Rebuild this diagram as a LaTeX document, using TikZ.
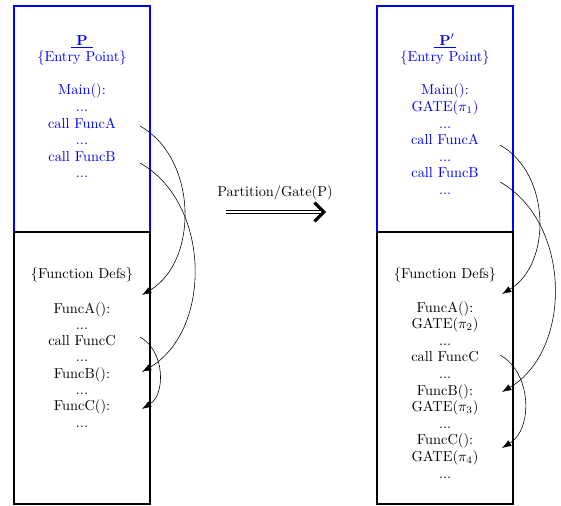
\documentclass[tikz,border=0pt]{standalone}
\usetikzlibrary{arrows.meta}
\begin{document}
\begin{tikzpicture}[x=0.6944pt, y=-0.6944pt,
  frame/.style={line width=1.3pt},
  ln/.style={anchor=base, inner sep=0pt},
  bl/.style={ln, text=blue},
  call/.style={-{Latex[length=6.5pt,width=4.6pt]}, bend left=60},
]
\useasboundingbox (0,0) rectangle (561,505);

% ---------- program P ----------
\draw[blue, frame] (14,6) rectangle (150,232);
\draw[frame] (14,232) rectangle (150,504);

\node[bl] (pTitle) at (82,45)    {\textbf{\underline{\ P\ }}};
\node[bl] (pEntry) at (82,61.6)  {\{Entry Point\}};
\node[bl] (pMain)  at (82,94.8)  {Main():};
\node[bl] (pD1)    at (82,111.4) {...};
\node[bl] (pCallA) at (82,128)   {call FuncA};
\node[bl] (pD2)    at (82,144.6) {...};
\node[bl] (pCallB) at (82,161.2) {call FuncB};
\node[bl] (pD3)    at (82,177.8) {...};

\node[ln] (pDefs)  at (82,278)   {\{Function Defs\}};
\node[ln] (pFA)    at (82,313)   {FuncA():};
\node[ln] (pD4)    at (82,329.3) {...};
\node[ln] (pCallC) at (82,345.6) {call FuncC};
\node[ln] (pD5)    at (82,361.9) {...};
\node[ln] (pFB)    at (82,378.2) {FuncB():};
\node[ln] (pD6)    at (82,394.5) {...};
\node[ln] (pFC)    at (82,410.8) {FuncC():};
\node[ln] (pD7)    at (82,427.1) {...};

% call edges in P
\coordinate (pA0) at (140,126);  \coordinate (pA1) at (142,295);
\coordinate (pB0) at (140,163);  \coordinate (pB1) at (142,372);
\coordinate (pC0) at (140,337);  \coordinate (pC1) at (142,409);
\draw[call] (pA0) to (pA1);
\draw[call] (pB0) to (pB1);
\draw[call] (pC0) to (pC1);

% ---------- transformation ----------
\node[anchor=base, inner sep=0pt] (xfLabel) at (275,196) {Partition/Gate(P)};
\coordinate (xf0) at (226,212);
\coordinate (xf1) at (326,212);
\draw[double, double distance=2pt,
      -{Straight Barb[length=6.5pt,width=13pt,line width=2.1pt 0 0]}] (xf0) -- (xf1);

% ---------- program P' ----------
\draw[blue, frame] (377,6) rectangle (513,232);
\draw[frame] (377,232) rectangle (513,504);

\node[bl] (qTitle) at (445,45)    {\textbf{\underline{\ $\mathbf{P}'$\kern1pt}}};
\node[bl] (qEntry) at (445,61.6)  {\{Entry Point\}};
\node[bl] (qMain)  at (445,94.8)  {Main():};
\node[bl] (qG1)    at (445,111.4) {GATE($\pi_1$)};
\node[bl] (qD1)    at (445,128)   {...};
\node[bl] (qCallA) at (445,144.6) {call FuncA};
\node[bl] (qD2)    at (445,161.2) {...};
\node[bl] (qCallB) at (445,177.8) {call FuncB};
\node[bl] (qD3)    at (445,194.4) {...};

\node[ln] (qDefs)  at (445,278)   {\{Function Defs\}};
\node[ln] (qFA)    at (445,312)   {FuncA():};
\node[ln] (qG2)    at (445,328.6) {GATE($\pi_2$)};
\node[ln] (qD4)    at (445,345.2) {...};
\node[ln] (qCallC) at (445,361.8) {call FuncC};
\node[ln] (qD5)    at (445,378.4) {...};
\node[ln] (qFB)    at (445,395)   {FuncB():};
\node[ln] (qG3)    at (445,411.6) {GATE($\pi_3$)};
\node[ln] (qD6)    at (445,428.2) {...};
\node[ln] (qFC)    at (445,444.8) {FuncC():};
\node[ln] (qG4)    at (445,461.4) {GATE($\pi_4$)};
\node[ln] (qD7)    at (445,478)   {...};

% call edges in P'
\coordinate (qA0) at (500,145);  \coordinate (qA1) at (502,294);
\coordinate (qB0) at (500,182);  \coordinate (qB1) at (502,392);
\coordinate (qC0) at (500,355);  \coordinate (qC1) at (502,448);
\draw[call] (qA0) to (qA1);
\draw[call] (qB0) to (qB1);
\draw[call] (qC0) to (qC1);
\end{tikzpicture}
\end{document}
